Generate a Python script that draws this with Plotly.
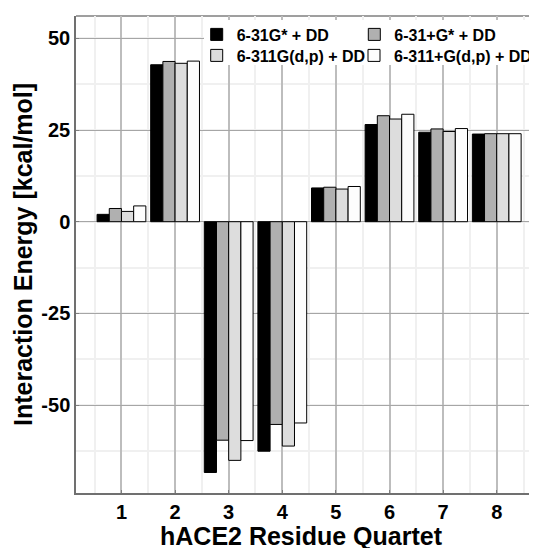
import plotly.graph_objects as go

categories = [1, 2, 3, 4, 5, 6, 7, 8]
series_names = ["6-31G* + DD", "6-31+G* + DD", "6-311G(d,p) + DD", "6-311+G(d,p) + DD"]
v_631g = [2.0, 42.8, -68.4, -62.6, 9.2, 26.5, 24.4, 23.9]
v_631pg = [3.6, 43.7, -59.6, -55.3, 9.4, 28.9, 25.3, 24.0]
v_6311g = [2.8, 43.2, -65.1, -61.2, 8.9, 28.0, 24.6, 24.0]
v_6311pg = [4.3, 43.8, -59.7, -54.9, 9.6, 29.3, 25.4, 24.0]
y_ticks = [-50, -25, 0, 25, 50]
x_title = "hACE2 Residue Quartet"
y_title = "Interaction Energy [kcal/mol]"

colors = ["#000000", "#b0b0b0", "#dddddd", "#fdfdfd"]
values = [v_631g, v_631pg, v_6311g, v_6311pg]
legend_ids = ["legend", "legend2", "legend3", "legend4"]

FONT = "Liberation Sans, Arial, sans-serif"

# page body has an 8px margin; compensate so the picture lands on the window
OFF = 8
W, H = 537 - OFF, 548 - OFF
ml, mr, mt, mb = 76 - OFF, 0, 16 - OFF, 55
pw = W - ml - mr
ph = H - mt - mb


def px(xp):
    return (xp - OFF - ml) / pw


def py(yp):
    return 1 - (yp - OFF - mt) / ph


fig = go.Figure()
for name, vals, col, lg in zip(series_names, values, colors, legend_ids):
    fig.add_trace(go.Bar(
        x=categories, y=vals, name=name,
        marker=dict(color=col, line=dict(color="#000000", width=1)),
        legend=lg, showlegend=True,
    ))

leg_common = dict(
    orientation="v", bgcolor="rgba(0,0,0,0)", borderwidth=0,
    font=dict(family=FONT, size=16, color="#000000", weight="bold"),
    yanchor="top", xanchor="left", itemwidth=30, visible=True,
)
col_x = [196.7, 354.3]
row_y = [17.5, 38.5]

fig.update_layout(
    width=W, height=H,
    margin=dict(l=ml, r=mr, t=mt, b=mb),
    paper_bgcolor="#ffffff", plot_bgcolor="#ffffff",
    barmode="group", bargap=0.09, bargroupgap=0,
    showlegend=True,
    font=dict(family=FONT, color="#000000"),
    legend=dict(x=px(col_x[0]), y=py(row_y[0]), **leg_common),
    legend2=dict(x=px(col_x[1]), y=py(row_y[0]), **leg_common),
    legend3=dict(x=px(col_x[0]), y=py(row_y[1]), **leg_common),
    legend4=dict(x=px(col_x[1]), y=py(row_y[1]), **leg_common),
    xaxis=dict(
        range=[0.152, 8.751], tickmode="array", tickvals=categories,
        ticktext=[str(c) for c in categories],
        tickfont=dict(family=FONT, size=20, color="#000000", weight="bold"),
        ticks="inside", ticklen=3, tickcolor="#7f7f7f", tickwidth=1,
        showline=True, linecolor="#707070", linewidth=1.5,
        showgrid=True, gridcolor="#bdbdbd", gridwidth=1.5,
        minor=dict(dtick=0.5, tick0=0.5, showgrid=True, gridcolor="#f0f0f0", gridwidth=1.5),
        zeroline=False,
    ),
    yaxis=dict(
        range=[-74.0, 56.1], tickmode="array", tickvals=y_ticks,
        ticktext=[str(t) for t in y_ticks],
        tickfont=dict(family=FONT, size=20, color="#000000", weight="bold"),
        ticks="inside", ticklen=3, tickcolor="#7f7f7f", tickwidth=1,
        showline=True, linecolor="#707070", linewidth=1.5,
        showgrid=True, gridcolor="#a6a6a6", gridwidth=1,
        minor=dict(dtick=12.5, tick0=12.5, showgrid=True, gridcolor="#f0f0f0", gridwidth=1.5),
        zeroline=True, zerolinecolor="#a6a6a6", zerolinewidth=1,
    ),
    annotations=[
        dict(text=x_title, xref="paper", yref="paper",
             x=px(301), y=py(536), xanchor="center", yanchor="middle",
             showarrow=False, font=dict(family=FONT, size=25, color="#000000", weight="bold")),
        dict(text=y_title, xref="paper", yref="paper", textangle=-90,
             x=px(23), y=py(255), xanchor="center", yanchor="middle",
             showarrow=False, font=dict(family=FONT, size=25, color="#000000", weight="bold")),
    ],
)

# top border line of the panel
fig.add_shape(type="line", xref="paper", yref="paper", x0=0, x1=1, y0=1, y1=1,
              line=dict(color="#7f7f7f", width=1.5), layer="below")
# white legend background
fig.add_shape(type="rect", xref="paper", yref="paper",
              x0=px(204), x1=1, y0=py(65), y1=py(20),
              fillcolor="#ffffff", line=dict(width=0), layer="above")

fig.write_html("out.html")
